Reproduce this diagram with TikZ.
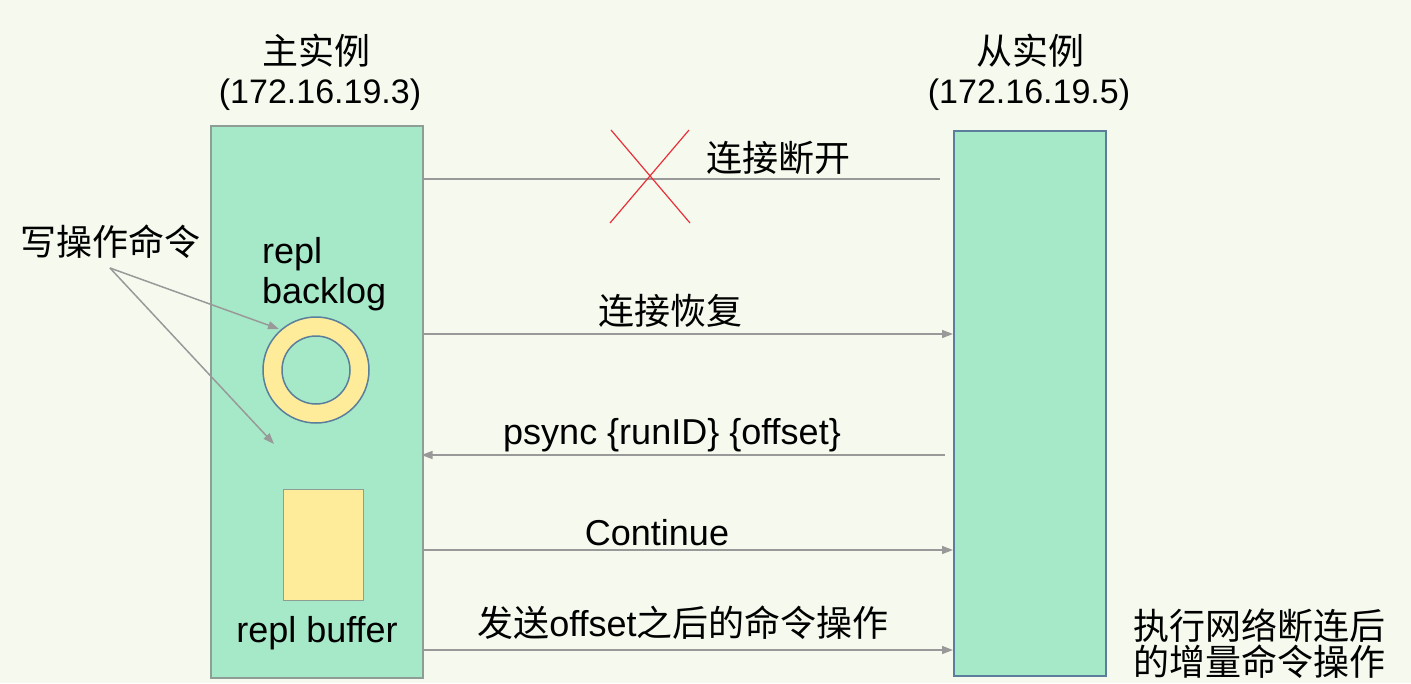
\documentclass[tikz,border=0pt]{standalone}
\usepackage{fontspec}
\setmainfont{Liberation Sans}
\newfontfamily\cjk{Noto Sans CJK SC}
\usetikzlibrary{arrows.meta}
\definecolor{bg}{HTML}{F6FAEE}
\definecolor{boxgreen}{HTML}{A6E9C8}
\definecolor{boxgray}{HTML}{8E9E96}
\definecolor{boxblue}{HTML}{5A7E9C}
\definecolor{ringyellow}{HTML}{FFEC9A}
\definecolor{linegray}{HTML}{999999}
\definecolor{xred}{HTML}{E8303A}
\tikzset{
  lbl/.style={inner sep=0pt, text=black},
  conn/.style={draw=linegray, line width=1.5pt},
  arr/.style={conn, -{Triangle[length=11pt,width=8pt]}},
}
\begin{document}
\begin{tikzpicture}[x=1pt,y=-1pt,font=\fontsize{36}{42}\selectfont]
\fill[bg] (0,0) rectangle (1411,683);
\useasboundingbox (0,0) rectangle (1411,683);

% boxes
\node[draw=boxgray, line width=1.5pt, fill=boxgreen, minimum width=212, minimum height=552, anchor=north west, inner sep=0] (master) at (210,125) {};
\node[draw=boxblue, line width=1.8pt, fill=boxgreen, minimum width=152, minimum height=545, anchor=north west, inner sep=0] (slave) at (953,130) {};

% ring
\node[circle, draw=boxblue, line width=1.5pt, fill=ringyellow, minimum size=106, inner sep=0] (backlog) at (316,370) {};
\node[circle, draw=boxblue, line width=1.5pt, fill=boxgreen, minimum size=68, inner sep=0] (backlogin) at (316,370) {};

% buffer
\node[draw=boxgray, line width=1.2pt, fill=ringyellow, minimum width=80, minimum height=111, anchor=north west, inner sep=0] (buffer) at (283,489) {};

% titles
\node[lbl] (mtitle) at (316,51) {\cjk 主实例};
\node[lbl, font=\fontsize{34}{40}\selectfont] (mip) at (320,95) {(172.16.19.3)};
\node[lbl] (stitle) at (1030,51) {\cjk 从实例};
\node[lbl, font=\fontsize{34}{40}\selectfont] (sip) at (1029,95) {(172.16.19.5)};

% inner labels
\node[lbl, anchor=base west] (repl1) at (262,263) {repl};
\node[lbl, anchor=base west] (repl2) at (262,303) {backlog};
\node[lbl, anchor=base] (rbuf) at (317,642) {repl buffer};

% write commands
\node[lbl] (write) at (110,242) {\cjk 写操作命令};
\coordinate (wsrc) at (110,268);
\coordinate (wdst1) at (279,329);
\coordinate (wdst2) at (274,444);
\draw[arr] (wsrc) -- (wdst1);
\draw[arr] (wsrc) -- (wdst2);

% connection lines
\draw[conn] (master.east |- 0,179) -- ([xshift=-13pt]slave.west |- 0,179);
\draw[xred, line width=1.2pt] (611,130) -- (690,223);
\draw[xred, line width=1.2pt] (689,130) -- (610,223);
\node[lbl] (l1) at (778,158) {\cjk 连接断开};

\draw[arr] (master.east |- 0,334) -- (slave.west |- 0,334);
\node[lbl] (l2) at (670,311) {\cjk 连接恢复};

\draw[arr] ([xshift=-8pt]slave.west |- 0,455) -- ([xshift=-2pt]master.east |- 0,455);
\node[lbl] (l3) at (672,435) {psync \{runID\} \{offset\}};

\draw[arr] (master.east |- 0,550) -- (slave.west |- 0,550);
\node[lbl] (l4) at (657,533) {Continue};

\draw[arr] (master.east |- 0,650) -- (slave.west |- 0,650);
\node[lbl] (l5) at (683,623) {{\cjk 发送}offset{\cjk 之后的命令操作}};

% right note
\node[lbl, anchor=west] (note1) at (1133,626) {\cjk 执行网络断连后};
\node[lbl, anchor=west] (note2) at (1133,662) {\cjk 的增量命令操作};
\end{tikzpicture}
\end{document}
